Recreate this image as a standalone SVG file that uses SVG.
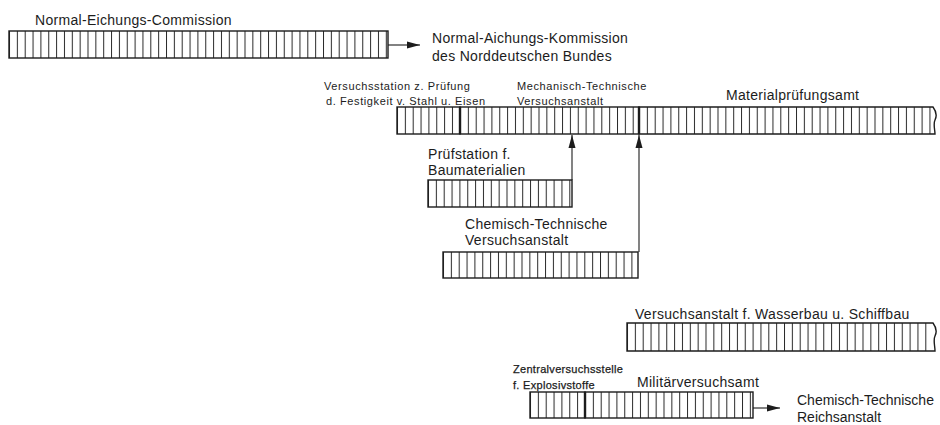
<svg xmlns="http://www.w3.org/2000/svg" width="940" height="425" viewBox="0 0 940 425">
<style>
text{font-family:"Liberation Sans",Arial,Helvetica,sans-serif;fill:#1c1c1c}
.m{font-size:14px;letter-spacing:0.3px}
.m0{font-size:14px}
.s{font-size:11px;letter-spacing:0.6px}
.sb{font-size:11px;letter-spacing:0.3px;stroke:#1c1c1c;stroke-width:0.25px}
.bar{fill:url(#st);stroke:#1c1c1c;stroke-width:1.4}
.barf{fill:url(#st);stroke:none}
.edge{fill:none;stroke:#1c1c1c;stroke-width:1.4}
.div{stroke:#1c1c1c;stroke-width:2.4}
.con{stroke:#1c1c1c;stroke-width:1.1;fill:none;marker-end:url(#ah)}
</style>
<defs>
<pattern id="st" patternUnits="userSpaceOnUse" width="7.85" height="60">
<rect x="0" y="0" width="7.85" height="60" fill="#fff"/>
<rect x="0" y="0" width="1" height="60" fill="#2a2a2a"/>
</pattern>
<marker id="ah" markerUnits="userSpaceOnUse" markerWidth="14" markerHeight="8" refX="13" refY="4" orient="auto">
<path d="M0,0.5 L13,4 L0,7.5 Z" fill="#1c1c1c"/>
</marker>
</defs>
<rect width="940" height="425" fill="#fff"/>

<g id="n-normal-eichungs-commission">
<rect class="bar" transform="translate(9,31)" width="379" height="27"/>
<text class="m" x="35" y="25">Normal-Eichungs-Commission</text>
</g>
<g id="n-normal-aichungs-kommission">
<text class="m" x="432" y="43">Normal-Aichungs-Kommission</text>
<text class="m" x="432" y="61">des Norddeutschen Bundes</text>
</g>

<g id="n-versuchsstation">
<rect class="bar" transform="translate(397,107)" width="63" height="27"/>
<text class="s" x="324" y="90">Versuchsstation z. Prüfung</text>
<text class="s" x="326" y="105">d. Festigkeit v. Stahl u. Eisen</text>
</g>
<g id="n-mechanisch-technische">
<rect class="bar" transform="translate(460,107)" width="179" height="27"/>
<text class="s" x="517" y="90">Mechanisch-Technische</text>
<text class="s" x="517" y="105">Versuchsanstalt</text>
</g>
<g id="n-materialpruefungsamt">
<rect class="barf" transform="translate(639,107)" width="294" height="27"/>
<path class="edge" d="M639,107 H933 C936,111 937,116 935,120 C933,124 935,130 935,134 H639 Z"/>
<text class="m" x="726" y="100">Materialprüfungsamt</text>
</g>
<line class="div" x1="460" y1="107" x2="460" y2="134"/>
<line class="div" x1="639" y1="107" x2="639" y2="134"/>

<g id="n-pruefstation">
<rect class="bar" transform="translate(428,180)" width="144" height="27"/>
<text class="m" x="428" y="159">Prüfstation f.</text>
<text class="m" x="428" y="175">Baumaterialien</text>
</g>

<g id="n-chemisch-technische-versuchsanstalt">
<rect class="bar" transform="translate(443,252)" width="195" height="26"/>
<text class="m" x="465" y="229">Chemisch-Technische</text>
<text class="m" x="465" y="245">Versuchsanstalt</text>
</g>

<g id="n-wasserbau">
<rect class="barf" transform="translate(627,323)" width="306" height="28"/>
<path class="edge" d="M627,323 H933 C936,327 937,332 935,336 C933,340 935,346 935,351 H627 Z"/>
<text class="m" x="635" y="319">Versuchsanstalt f. Wasserbau u. Schiffbau</text>
</g>

<g id="n-zentralversuchsstelle">
<rect class="bar" transform="translate(530,392)" width="55" height="26"/>
<text class="sb" x="513" y="373">Zentralversuchsstelle</text>
<text class="sb" x="513" y="389">f. Explosivstoffe</text>
</g>
<g id="n-militaerversuchsamt">
<rect class="bar" transform="translate(585,392)" width="168" height="26"/>
<text class="m" x="637" y="387">Militärversuchsamt</text>
</g>
<line class="div" x1="585" y1="392" x2="585" y2="418"/>

<g id="n-chemisch-technische-reichsanstalt">
<text class="m0" x="797" y="405">Chemisch-Technische</text>
<text class="m0" x="797" y="422">Reichsanstalt</text>
</g>

<g id="connectors">
<line class="con" x1="388" y1="45" x2="420" y2="45"/>
<line class="con" x1="572" y1="180" x2="572" y2="135"/>
<line class="con" x1="639" y1="252" x2="639" y2="135"/>
<line class="con" x1="753" y1="408" x2="780" y2="408"/>
</g>
</svg>
